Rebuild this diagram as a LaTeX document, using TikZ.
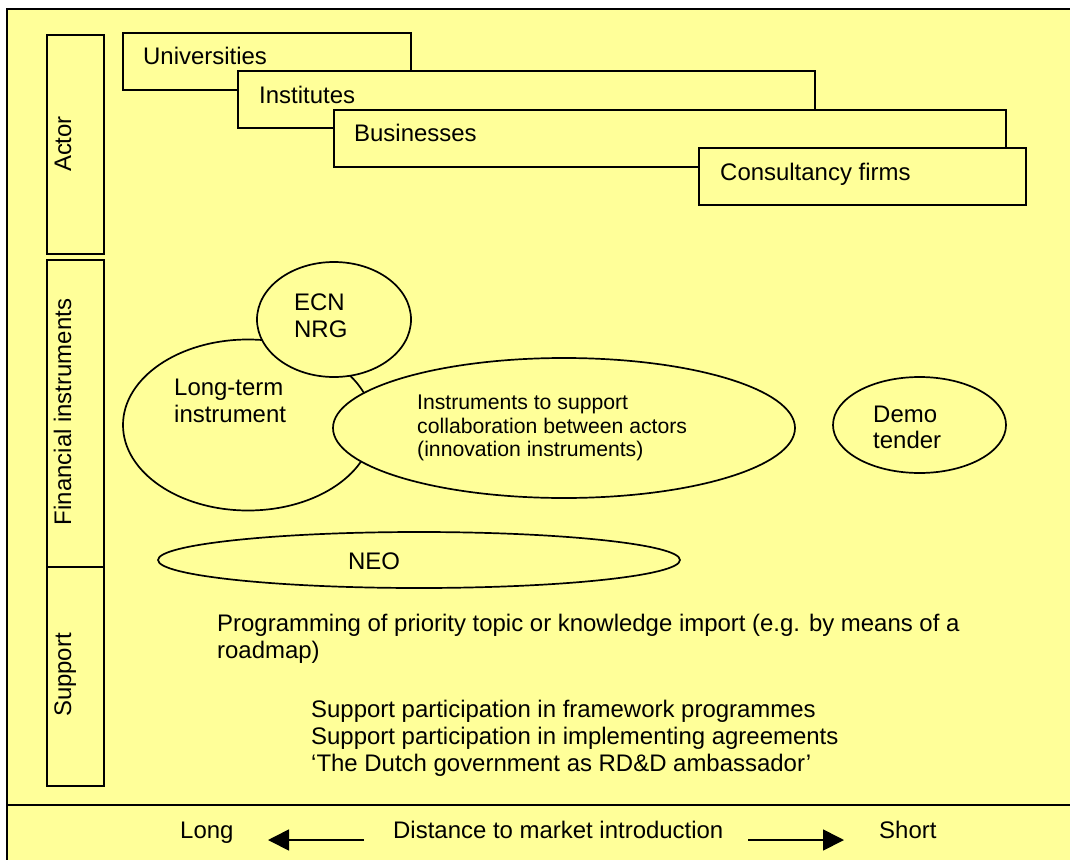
\documentclass[tikz,border=0pt]{standalone}
\usepackage{fontspec}
\setmainfont{Liberation Sans}
\usetikzlibrary{shapes.geometric,arrows.meta}
\definecolor{pale}{RGB}{255,255,153}
\begin{document}
\begin{tikzpicture}[x=1pt,y=-1pt,
  lw/.style={line width=1.7pt},
  sidebox/.style={draw, lw, fill=pale, rectangle, inner sep=0pt, anchor=north west},
  actorbox/.style={draw, lw, fill=pale, rectangle, inner sep=0pt, anchor=north west, minimum height=57pt},
  oval/.style={draw, lw, fill=pale, ellipse, inner sep=0pt},
  txt/.style={anchor=base west, inner sep=0pt, font=\fontsize{23.95}{27}\selectfont},
  smalltxt/.style={anchor=base west, inner sep=0pt, font=\fontsize{21.2}{24}\selectfont},
  sidetxt/.style={rotate=90, anchor=base, inner sep=0pt, font=\fontsize{23.95}{27}\selectfont},
  arr/.style={lw, -{Triangle[length=21pt,width=21pt]}}
]
\useasboundingbox (0,0) rectangle (1070,859);
\fill[white] (0,0) rectangle (1070,859);
\begin{scope}
\clip (0,0) rectangle (1070,859);
\draw[lw, fill=pale] (7,9) rectangle (1085,870);
\draw[lw] (7,805) -- (1085,805);
\end{scope}

% side columns
\node[sidebox, minimum width=57pt, minimum height=219pt] (actorcol) at (46,34) {};
\node[sidebox, minimum width=57pt, minimum height=307pt] (fincol) at (46,259) {};
\node[sidebox, minimum width=57pt, minimum height=219pt] (supcol) at (46,566) {};
\node[sidetxt] (actorlbl) at (71,144) {Actor};
\node[sidetxt] (finlbl) at (71,412) {Financial instruments};
\node[sidetxt] (suplbl) at (71,675) {Support};

% actor boxes
\node[actorbox, minimum width=288pt] (uni) at (122,32) {};
\node[txt] (unit) at (143,65) {Universities};
\node[actorbox, minimum width=577pt] (inst) at (237,70) {};
\node[txt] (instt) at (259,103) {Institutes};
\node[actorbox, minimum width=672pt] (bus) at (333,109) {};
\node[txt] (bust) at (354,141) {Businesses};
\node[actorbox, minimum width=327pt] (cons) at (698,147) {};
\node[txt] (const) at (720,180) {Consultancy firms};

% financial instruments
\node[oval, minimum width=250pt, minimum height=171pt] (longterm) at (248,425) {};
\node[oval, minimum width=154pt, minimum height=115pt] (ecn) at (334,319.5) {};
\node[oval, minimum width=462pt, minimum height=140pt] (collab) at (564,428) {};
\node[oval, minimum width=173pt, minimum height=96pt] (demo) at (919.5,425) {};
\node[oval, minimum width=522pt, minimum height=56pt] (neo) at (419,560) {};

\node[txt] (ecn1) at (294,310) {ECN};
\node[txt] (ecn2) at (294,337) {NRG};
\node[txt] (lt1) at (174,395) {Long-term};
\node[txt] (lt2) at (174,422) {instrument};
\node[smalltxt] (co1) at (417,409) {Instruments to support};
\node[smalltxt] (co2) at (417,433) {collaboration between actors};
\node[smalltxt] (co3) at (417,456) {(innovation instruments)};
\node[txt] (de1) at (873,422) {Demo};
\node[txt] (de2) at (873,448) {tender};
\node[txt] (neot) at (348,569) {NEO};

% support
\node[txt] (pr1) at (217,631) {Programming of priority topic or knowledge import (e.g. by means of a};
\node[txt] (pr2) at (217,658) {roadmap)};
\node[txt] (su1) at (311,717) {Support participation in framework programmes};
\node[txt] (su2) at (311,744) {Support participation in implementing agreements};
\node[txt] (su3) at (311,771) {‘The Dutch government as RD\&D ambassador’};

% bottom axis
\node[txt] (long) at (180,838) {Long};
\node[txt] (dist) at (393,838) {Distance to market introduction};
\node[txt] (short) at (879,838) {Short};
\coordinate (la) at (364,840);
\coordinate (lb) at (268,840);
\coordinate (ra) at (748,840);
\coordinate (rb) at (844,840);
\draw[arr] (la) -- (lb);
\draw[arr] (ra) -- (rb);
\end{tikzpicture}
\end{document}
